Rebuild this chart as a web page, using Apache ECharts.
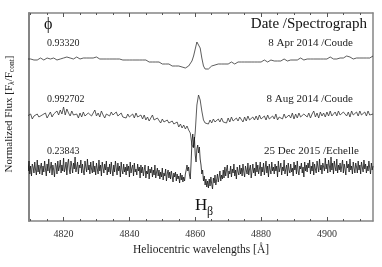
<!DOCTYPE html>
<html>
<head>
<meta charset="utf-8">
<script src="https://cdn.jsdelivr.net/npm/echarts@6/dist/echarts.min.js"></script>
<style>html,body{margin:0;padding:0;background:#fff}#c{width:382px;height:267px}</style>
</head>
<body>
<div id="c"></div>
<script>
// Wavelength grids (Å): start and step of the sampled spectra
const wlStart = 4809;
const wlStepCoude = 0.5;
const wlStepEchelle = 0.25;
// Major / minor tick values (Å)
const majorTicks = [4820, 4840, 4860, 4880, 4900];
const minorTicks = [4810,4815,4825,4830,4835,4845,4850,4855,4865,4870,4875,4885,4890,4895,4905,4910];
// Phases, dates / spectrographs
const phases = ['0.93320', '0.992702', '0.23843'];
const dates = ['8 Apr 2014 /Coude', '8 Aug 2014 /Coude', '25 Dec 2015 /Echelle'];
// Vertical offsets applied to each normalized spectrum
const offsets = [1.1, 0.5, 0];

// Normalized flux, 8 Apr 2014 (phase 0.93320), 0.5 Å sampling
const flux1 = [
0.98,0.97,0.98,0.99,0.97,0.98,0.97,0.98,0.99,0.98,
0.97,0.98,0.99,0.97,0.98,0.98,0.99,0.98,0.97,0.99,
0.98,1.00,0.99,0.98,1.00,1.01,0.99,1.00,0.98,0.99,
1.00,0.99,0.98,1.00,0.99,0.98,0.99,1.00,0.99,0.98,
0.99,0.98,1.00,0.99,0.98,0.99,0.98,0.99,0.98,0.99,
0.98,0.99,0.98,0.97,0.98,0.99,0.98,0.98,0.97,0.98,
0.97,0.98,0.97,0.98,0.97,0.96,0.97,0.98,0.97,0.96,
0.97,0.96,0.97,0.96,0.95,0.96,0.95,0.96,0.95,0.94,
0.95,0.94,0.93,0.94,0.93,0.92,0.93,0.92,0.91,0.92,
0.91,0.90,0.91,0.89,0.90,0.88,0.89,0.90,0.91,0.93,
0.96,1.01,1.08,1.15,1.16,1.09,0.99,0.91,0.88,0.89,
0.88,0.90,0.91,0.90,0.92,0.91,0.93,0.92,0.93,0.94,
0.93,0.94,0.93,0.94,0.95,0.94,0.93,0.94,0.95,0.94,
0.95,0.94,0.95,0.96,0.95,0.94,0.95,0.96,0.95,0.96,
0.95,0.96,0.95,0.96,0.97,0.96,0.95,0.96,0.97,0.96,
0.96,0.97,0.96,0.97,0.96,0.97,0.98,0.97,0.96,0.97,
0.97,0.98,0.97,0.98,0.97,0.98,0.99,0.98,0.97,0.98,
0.98,0.97,0.98,0.99,0.98,0.97,0.98,0.99,0.98,0.99,
0.98,0.99,0.98,0.99,1.00,0.99,0.98,0.99,0.98,0.99,
0.99,1.00,0.99,1.00,1.01,0.99,1.00,0.99,0.98,0.99,
0.99,1.00,0.99,0.98,0.99,1.00,0.99,0.98,0.99,1.00,
1.01];

// Normalized flux, 8 Aug 2014 (phase 0.992702), 0.5 Å sampling
const flux2 = [
1.01,0.99,1.03,0.98,1.01,1.00,1.03,1.00,0.98,1.02,
1.01,1.04,0.99,1.02,1.05,1.00,1.03,1.02,1.06,1.02,
1.07,1.03,1.10,1.02,1.08,1.04,1.01,1.06,1.02,1.00,
1.03,0.99,1.04,1.00,1.05,1.01,0.99,1.04,1.06,1.01,
1.03,1.07,1.01,1.04,1.00,1.06,1.02,0.99,1.03,1.05,
1.01,1.05,1.02,1.00,1.05,1.01,0.99,1.04,1.00,1.02,
0.99,1.03,1.00,0.98,1.03,0.99,1.04,1.00,0.98,1.02,
0.98,1.02,0.97,1.00,0.96,0.99,1.02,0.97,0.95,0.99,
0.97,0.94,0.98,0.95,0.93,0.97,0.94,0.92,0.96,0.93,
0.91,0.95,0.90,0.93,0.89,0.92,0.88,0.91,0.87,0.84,
0.72,0.69,0.85,1.12,1.22,1.17,1.06,0.97,0.94,0.95,
0.93,0.97,0.94,0.98,0.95,0.94,0.98,0.95,0.99,0.95,
0.97,0.94,0.99,0.95,1.00,0.96,0.95,0.99,0.96,1.00,
0.98,0.95,1.00,0.96,1.01,0.97,0.96,1.00,0.97,1.01,
0.97,1.02,0.98,0.96,1.01,0.97,1.02,0.98,0.97,1.01,
0.98,1.03,0.97,1.00,1.02,0.98,1.03,0.99,0.97,1.02,
0.99,1.04,0.98,1.03,0.99,1.04,1.00,0.98,1.03,1.05,
1.00,1.04,0.99,1.03,1.06,1.00,1.04,0.99,1.05,1.01,
1.04,1.00,1.05,1.01,1.06,1.01,0.99,1.05,1.01,1.06,
1.02,1.00,1.05,1.07,1.01,1.05,1.00,1.06,1.02,1.01,
1.05,1.01,1.06,1.02,1.00,1.05,1.01,1.06,1.02,1.00,
1.03];

// Normalized flux, 25 Dec 2015 (phase 0.23843), 0.25 Å sampling
const flux3 = [
1.04,0.96,1.06,0.93,1.01,0.91,1.03,1.00,0.94,1.05,0.97,0.92,1.07,0.95,1.02,0.93,1.00,1.04,0.92,1.01,
0.95,1.06,0.98,0.91,1.03,0.96,1.08,0.94,0.99,1.05,0.92,1.02,0.97,0.90,1.04,1.01,0.93,1.06,0.96,1.00,
1.07,0.94,1.02,0.96,1.09,0.95,0.99,1.05,0.92,1.03,1.08,0.97,0.93,1.06,1.01,0.94,1.04,0.98,1.10,0.95,
0.97,1.05,0.93,1.02,0.99,1.07,0.94,1.03,0.96,0.92,1.06,1.00,0.95,1.08,0.97,1.02,0.93,1.05,0.98,0.94,
1.06,0.95,1.01,0.92,1.04,0.98,0.93,1.07,0.96,1.02,0.91,1.05,0.99,0.94,1.03,0.97,1.06,0.92,1.00,0.95,
1.03,0.93,1.05,0.97,0.91,1.02,0.95,1.06,0.99,0.92,1.04,0.96,1.01,0.90,1.05,0.97,0.93,1.03,0.95,1.00,
0.92,1.03,0.96,1.01,0.90,1.05,0.94,0.99,1.02,0.91,1.04,0.95,0.98,0.92,1.03,0.96,1.00,0.89,1.02,0.94,
1.00,0.91,0.97,1.02,0.89,0.96,0.93,1.01,0.88,0.98,0.94,1.00,0.90,0.97,0.92,1.02,0.89,0.95,0.99,0.91,
0.97,0.88,0.95,0.90,0.99,0.87,0.94,0.91,0.98,0.86,0.93,0.97,0.89,0.95,0.88,0.96,0.91,0.85,0.94,0.90,
0.95,0.86,0.93,0.88,0.91,0.84,0.94,0.87,0.92,0.85,0.90,0.86,0.93,0.97,1.02,0.96,1.00,0.92,0.88,1.05,
1.25,1.33,1.20,1.30,1.12,1.05,1.18,1.22,1.14,1.20,1.08,1.02,0.93,0.97,0.86,0.91,0.82,0.88,0.80,0.86,
0.79,0.88,0.81,0.90,0.83,0.78,0.89,0.84,0.92,0.82,0.87,0.93,0.85,0.90,0.96,0.86,0.92,0.88,0.97,0.89,
1.00,0.91,0.97,1.02,0.89,0.96,0.93,1.01,0.90,0.98,0.94,1.03,0.91,0.97,0.88,1.00,0.95,0.92,1.02,0.93,
0.99,0.91,1.03,0.95,0.90,1.01,0.97,0.93,1.04,0.92,0.98,1.02,0.89,0.96,1.03,0.94,0.99,0.91,1.05,0.95,
1.02,0.93,0.98,1.05,0.91,1.00,0.95,1.04,0.92,0.99,1.06,0.94,1.01,0.90,1.03,0.97,0.93,1.05,0.96,1.00,
0.93,1.03,0.96,1.01,0.90,1.06,0.95,0.99,1.04,0.92,1.00,0.96,1.07,0.93,0.98,1.02,0.91,1.04,0.97,0.94,
1.03,0.95,0.99,0.91,1.05,0.97,1.02,0.93,1.06,0.96,0.92,1.01,0.98,1.04,0.94,1.00,0.90,1.05,0.96,1.02,
0.95,1.04,0.99,1.07,0.93,1.01,0.96,1.05,0.92,1.03,0.98,0.94,1.06,1.00,0.95,1.08,0.97,1.02,0.93,1.04,
1.06,0.96,1.09,0.98,1.03,0.94,1.07,1.01,0.95,1.10,0.97,1.04,0.93,1.06,1.00,0.96,1.08,0.94,1.02,0.97,
1.04,0.95,1.01,1.07,0.94,1.03,0.98,0.92,1.06,0.99,1.03,0.95,1.08,0.97,1.01,0.93,1.05,0.99,0.94,1.04,
1.00,0.94,1.06,0.97,1.02,0.93,1.05,1.00,0.95,1.07,0.98,1.03,0.94,1.01,0.96,1.06,0.99,0.93,1.04,0.97,
1.01];

const spectra = [flux1, flux2, flux3];
const steps = [wlStepCoude, wlStepCoude, wlStepEchelle];
function toPairs(arr, step, off) {
  return arr.map((f, i) => [wlStart + step * i, +(f + off).toFixed(3)]);
}

const FONT = '"Liberation Serif", "DejaVu Serif", serif';
const AXC = '#858585';
const chart = echarts.init(document.getElementById('c'), null, { renderer: 'canvas' });
const xBase = { type: 'value', min: 4809.5, max: 4914, splitLine: { show: false } };
chart.setOption({
  animation: false,
  backgroundColor: '#fff',
  grid: { left: 29, right: 9, top: 13, bottom: 46, containLabel: false },
  xAxis: [
    Object.assign({}, xBase, {
      position: 'bottom',
      axisLine: { show: true, onZero: false, lineStyle: { color: AXC, width: 1.5 } },
      axisTick: { show: true, inside: true, length: 4, customValues: majorTicks, lineStyle: { color: '#555', width: 1 } },
      axisLabel: { show: true, customValues: majorTicks, margin: 8, color: '#333', fontFamily: FONT, fontSize: 10, formatter: v => String(v) },
      name: 'Heliocentric wavelengths [Å]', nameLocation: 'middle', nameGap: 20,
      nameTextStyle: { color: '#222', fontFamily: FONT, fontSize: 11.5 }
    }),
    Object.assign({}, xBase, {
      position: 'bottom',
      axisLine: { show: false },
      axisTick: { show: true, inside: true, length: 2, customValues: minorTicks, lineStyle: { color: '#555', width: 1 } },
      axisLabel: { show: false }
    }),
    Object.assign({}, xBase, {
      position: 'top',
      axisLine: { show: true, onZero: false, lineStyle: { color: AXC, width: 1.5 } },
      axisTick: { show: true, inside: true, length: 4, customValues: majorTicks, lineStyle: { color: '#555', width: 1 } },
      axisLabel: { show: false }
    }),
    Object.assign({}, xBase, {
      position: 'top',
      axisLine: { show: false },
      axisTick: { show: true, inside: true, length: 2, customValues: minorTicks, lineStyle: { color: '#555', width: 1 } },
      axisLabel: { show: false }
    })
  ],
  yAxis: [
    { type: 'value', min: 0.46, max: 2.54, position: 'left', splitLine: { show: false },
      axisLine: { show: true, onZero: false, lineStyle: { color: AXC, width: 2 } },
      axisTick: { show: false }, axisLabel: { show: false } },
    { type: 'value', min: 0.46, max: 2.54, position: 'right', splitLine: { show: false },
      axisLine: { show: true, onZero: false, lineStyle: { color: AXC, width: 1.5 } },
      axisTick: { show: false }, axisLabel: { show: false } }
  ],
  series: spectra.map((s, k) => ({
    type: 'line',
    xAxisIndex: 0, yAxisIndex: 0,
    data: toPairs(s, steps[k], offsets[k]),
    showSymbol: false, symbol: 'none',
    lineStyle: { color: k === 2 ? '#151515' : '#333', width: 0.8 },
    silent: true, z: 3
  })),
  graphic: [
    { type: 'text', x: 44, y: 25, style: { text: 'ϕ', font: '16px ' + FONT, fill: '#111', textVerticalAlign: 'middle' } },
    { type: 'text', x: 47, y: 43, style: { text: phases[0], font: '10px ' + FONT, fill: '#222', textVerticalAlign: 'middle' } },
    { type: 'text', x: 47, y: 99, style: { text: phases[1], font: '10px ' + FONT, fill: '#222', textVerticalAlign: 'middle' } },
    { type: 'text', x: 47, y: 151, style: { text: phases[2], font: '10px ' + FONT, fill: '#222', textVerticalAlign: 'middle' } },
    { type: 'text', x: 367, y: 24, style: { text: 'Date /Spectrograph', font: '15px ' + FONT, fill: '#111', textAlign: 'right', textVerticalAlign: 'middle' } },
    { type: 'text', x: 353, y: 43, style: { text: dates[0], font: '11px ' + FONT, fill: '#222', textAlign: 'right', textVerticalAlign: 'middle' } },
    { type: 'text', x: 353, y: 99, style: { text: dates[1], font: '11px ' + FONT, fill: '#222', textAlign: 'right', textVerticalAlign: 'middle' } },
    { type: 'text', x: 359, y: 151, style: { text: dates[2], font: '11px ' + FONT, fill: '#222', textAlign: 'right', textVerticalAlign: 'middle' } },
    { type: 'text', x: 195, y: 206, style: { text: 'H', font: '17px ' + FONT, fill: '#111', textVerticalAlign: 'middle' } },
    { type: 'text', x: 207, y: 212, style: { text: 'β', font: '12px ' + FONT, fill: '#111', textVerticalAlign: 'middle' } },
    { type: 'text', x: 9, y: 114, rotation: Math.PI / 2,
      style: { text: '{n|Normalized Flux [F}{s|λ}{n|/F}{s|cont}{n|]}', textAlign: 'center', textVerticalAlign: 'middle',
        rich: { n: { fontFamily: FONT, fontSize: 11, fill: '#222', lineHeight: 14 },
                s: { fontFamily: FONT, fontSize: 7.5, fill: '#222', lineHeight: 8, verticalAlign: 'bottom' } } } }
  ]
});
</script>
</body>
</html>
